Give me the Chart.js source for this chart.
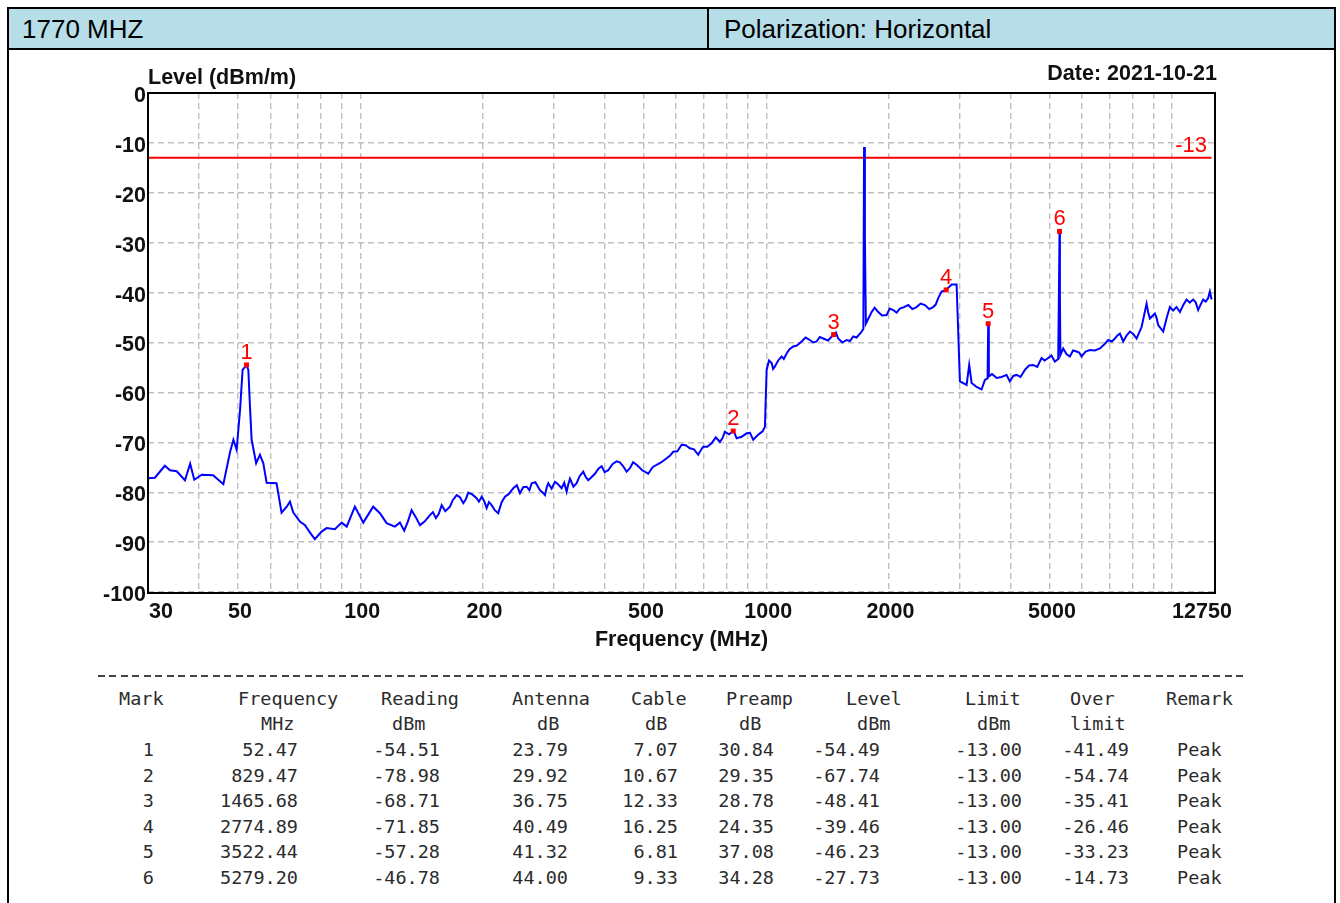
<!DOCTYPE html>
<html><head><meta charset="utf-8">
<script src="https://cdn.jsdelivr.net/npm/chart.js@4.4.0/dist/chart.umd.min.js"></script>
<style>
html,body{margin:0;padding:0;background:#fff;width:1340px;height:903px;overflow:hidden;position:relative;font-family:"Liberation Sans",Arial,sans-serif;}
#frame{position:absolute;left:7px;top:7px;width:1329px;height:930px;border:2px solid #000;box-sizing:border-box;}
#hdr{position:absolute;left:9px;top:9px;width:1325px;height:41px;background:#b7dde8;border-bottom:2px solid #000;box-sizing:border-box;}
#div{position:absolute;left:707px;top:9px;width:2px;height:41px;background:#000;}
.ht{position:absolute;top:9px;height:40px;line-height:40px;font-size:26px;color:#000;white-space:nowrap;}
#c{position:absolute;left:0;top:0;z-index:2;}
#tbl{position:absolute;left:0;top:0;width:1340px;height:903px;font-family:"DejaVu Sans Mono","Liberation Mono",monospace;font-size:18.5px;color:#2b2b2b;}
#tbl span{position:absolute;white-space:pre;height:26px;line-height:26px;}
#dash{position:absolute;left:98px;top:675px;width:1150px;height:2px;background:repeating-linear-gradient(90deg,#444 0,#444 7px,transparent 7px,transparent 11.5px);}
</style></head>
<body>
<div id="frame"></div>
<div id="hdr"></div>
<div id="div"></div>
<div class="ht" style="left:22px">1770 MHZ</div>
<div class="ht" style="left:724px">Polarization: Horizontal</div>
<div id="tbl"><div id="dash"></div></div>
<canvas id="c" width="1340" height="665"></canvas>
<script>
// ---- data ----
const traceFreq = [30.0,31.2,33.0,34.0,35.3,37.0,38.1,39.0,40.7,43.4,46.0,47.8,48.7,49.6,50.6,51.3,52.47,53.0,53.5,54.0,55.4,56.6,57.7,58.8,62.2,64.0,65.9,67.1,68.4,71.0,73.1,75.2,77.3,80.3,82.6,86.6,90.0,92.6,97.0,98.9,101.7,107.6,111.8,116.1,121.7,125.2,128.3,131,133.8,137,140.3,144,148.5,151,153.6,156,158.7,162,166.3,169,172.8,176,179.4,182,184.5,189,193.5,196,199.1,202,204.8,207.5,210.7,214.5,218.7,223,227.2,232,238.2,243,247.4,252,257.0,261,264.4,270,277.1,281,285.1,288,290.5,296,301.7,307,313.4,318,322.4,325,328.5,335,341.2,347,354.2,359,364.4,371,378.5,386,393.2,400,408.2,418,428.1,436,444.4,453,461.6,470,479.5,495,512.1,525,537.1,552,568.5,579,590.1,604,618.9,633,648.7,664,680.0,690,699.5,716,733.6,751,768.9,780,791.0,810,829.47,837,845.5,870,894.9,912,929.0,947,964.9,980,992.7,1002.3,1016,1031.1,1040,1050.6,1070,1091.3,1105,1122.7,1140,1165.6,1190,1222.4,1250,1281.3,1305,1330.9,1355,1381.7,1420,1465.68,1485,1504.4,1540,1578.0,1608,1638.2,1670,1701.6,1718,1735,1742,1750,1760,1818.4,1850,1887.6,1930,1979.7,2015,2055.0,2095,2134.5,2185,2237.6,2290,2346.7,2400,2459.8,2520,2578.6,2615,2652.8,2704.4,2774.89,2862.1,2944.4,2971.2,3000,3116.1,3162.4,3205.9,3298.0,3392.8,3456.9,3510,3522.44,3535,3600,3694.2,3800,3909.6,3983.6,4060,4137.7,4230,4336.8,4440,4545.6,4650,4767.6,4850,4950,5040,5141.7,5240,5279.2,5290,5305,5389.7,5490,5598.3,5700,5814.8,5900,5982,6120,6269.7,6450,6637.8,6800,6957.6,7100,7226.7,7330,7434.6,7575,7720,7868.7,8020,8172.9,8408,8649.9,8730,8813.4,9066.9,9150,9238.2,9504,9700,9871.8,10050,10254,10448,10650,10852,11050,11265,11420,11589,11750,11922,12100,12267,12384,12507];
const traceLevel = [-77.2,-77.1,-74.7,-75.6,-75.8,-77.6,-74.3,-77.5,-76.5,-76.6,-78.4,-71.9,-69.5,-71.5,-63.2,-55.5,-54.5,-55.5,-62.9,-69.5,-74.2,-72.5,-74.2,-78.1,-78.2,-84.1,-82.9,-81.9,-84.1,-85.9,-86.6,-88.1,-89.4,-87.9,-87.2,-87.4,-86.1,-86.9,-82.9,-84.2,-86.1,-82.9,-84.2,-86.2,-86.9,-86.1,-87.7,-85.9,-83.6,-85.0,-86.6,-85.9,-84.6,-84.0,-85.2,-84.4,-82.6,-83.8,-82.9,-81.6,-80.6,-81.0,-82.2,-81.4,-80.1,-80.5,-81.2,-81.9,-80.9,-81.8,-83.2,-82.0,-82.6,-83.6,-84.2,-82.0,-80.9,-80.4,-79.2,-78.6,-80.2,-79.0,-78.9,-79.6,-78.2,-78.0,-79.6,-80.0,-80.6,-79.0,-78.2,-79.3,-77.9,-78.4,-79.2,-78.1,-79.9,-78.6,-77.3,-78.9,-78.2,-76.8,-75.9,-76.9,-77.6,-77.0,-76.3,-75.3,-74.8,-76.0,-75.6,-74.4,-73.8,-74.0,-74.8,-75.9,-75.2,-74.0,-74.5,-75.6,-76.3,-75.0,-74.5,-74.0,-73.2,-72.7,-71.9,-71.8,-70.5,-70.6,-71.2,-71.4,-72.5,-71.6,-70.9,-70.9,-70.2,-69.0,-69.9,-69.2,-67.9,-68.4,-67.74,-68.3,-69.2,-68.9,-68.2,-68.1,-69.5,-68.8,-68.2,-67.8,-66.9,-55.5,-53.6,-54.1,-55.3,-54.8,-53.6,-52.8,-53.3,-52.2,-51.4,-50.8,-50.6,-49.8,-49.0,-49.5,-50.0,-49.8,-48.9,-49.2,-49.6,-48.41,-48.0,-49.2,-50.0,-49.5,-49.7,-48.8,-49.0,-48.2,-47.8,-47.3,-10.8,-28.8,-46.2,-43.9,-43.0,-43.9,-44.6,-44.5,-43.2,-43.5,-44.0,-43.2,-42.9,-42.5,-43.3,-42.9,-42.2,-42.5,-43.3,-42.9,-42.4,-41.1,-39.8,-39.46,-38.4,-38.4,-47.8,-57.8,-58.5,-54.5,-58.1,-58.9,-59.4,-57.5,-57.2,-46.23,-56.8,-56.3,-57.1,-56.9,-56.5,-57.8,-56.7,-56.5,-56.9,-55.5,-54.6,-54.5,-54.9,-53.1,-53.6,-53.1,-52.6,-53.8,-53.3,-27.73,-40.4,-52.5,-51.2,-52.3,-52.8,-51.6,-51.8,-52.0,-52.8,-51.8,-51.5,-51.6,-51.2,-50.4,-49.5,-49.8,-49.2,-48.6,-48.2,-49.8,-48.6,-47.8,-48.3,-49.2,-46.9,-42.2,-44.0,-45.2,-44.2,-45.0,-46.5,-47.8,-45.0,-42.9,-43.6,-42.9,-43.9,-42.5,-41.4,-42.0,-41.4,-41.9,-43.5,-42.4,-41.4,-41.8,-41.1,-39.8,-41.4];
const limitFreq = [30, 12500];
const limitLevel = [-13, -13];
const limitValue = -13;
const markNo = [1, 2, 3, 4, 5, 6];
const markFreq = [52.47, 829.47, 1465.68, 2774.89, 3522.44, 5279.20];
const markReading = [-54.51, -78.98, -68.71, -71.85, -57.28, -46.78];
const markAntenna = [23.79, 29.92, 36.75, 40.49, 41.32, 44.00];
const markCable = [7.07, 10.67, 12.33, 16.25, 6.81, 9.33];
const markPreamp = [30.84, 29.35, 28.78, 24.35, 37.08, 34.28];
const markLevel = [-54.49, -67.74, -48.41, -39.46, -46.23, -27.73];
const markLimit = [-13.00, -13.00, -13.00, -13.00, -13.00, -13.00];
const markOver = [-41.49, -54.74, -35.41, -26.46, -33.23, -14.73];
const markRemark = ['Peak', 'Peak', 'Peak', 'Peak', 'Peak', 'Peak'];
const xTickLabels = [30, 50, 100, 200, 500, 1000, 2000, 5000, 12750];
const xGridValues = [40,50,60,70,80,90,100,200,300,400,500,600,700,800,900,1000,2000,3000,4000,5000,6000,7000,8000,9000,10000];
const yTicks = [0,-10,-20,-30,-40,-50,-60,-70,-80,-90,-100];

// ---- table ----
const tbl = document.getElementById('tbl');
function put(txt, x, yc, align) {
  const s = document.createElement('span');
  s.textContent = txt;
  s.style.top = (yc - 13) + 'px';
  if (align === 'right') { s.style.right = (1340 - x) + 'px'; } else { s.style.left = x + 'px'; }
  tbl.appendChild(s);
}
const h1 = [['Mark',119],['Frequency',238],['Reading',381],['Antenna',512],['Cable',631],['Preamp',726],['Level',846],['Limit',965],['Over',1070],['Remark',1166]];
const h2 = [['MHz',261],['dBm',392],['dB',537],['dB',645],['dB',739],['dBm',857],['dBm',977],['limit',1070]];
h1.forEach(h => put(h[0], h[1], 699));
h2.forEach(h => put(h[0], h[1], 724));
const cols = [
  [markNo.map(String), 154],
  [markFreq.map(v => v.toFixed(2)), 298],
  [markReading.map(v => v.toFixed(2)), 440],
  [markAntenna.map(v => v.toFixed(2)), 568],
  [markCable.map(v => v.toFixed(2)), 678],
  [markPreamp.map(v => v.toFixed(2)), 774],
  [markLevel.map(v => v.toFixed(2)), 880],
  [markLimit.map(v => v.toFixed(2)), 1022],
  [markOver.map(v => v.toFixed(2)), 1129]
];
for (let i = 0; i < markNo.length; i++) {
  const yc = 750 + i * 25.6;
  cols.forEach(c => put(c[0][i], c[1], yc, 'right'));
  put(markRemark[i], 1177, yc);
}

// ---- chart ----
const W = 1340, H = 665, PLOT_BOTTOM = 592;
const overlay = {
  id: 'overlay',
  afterDraw(chart) {
    const ctx = chart.ctx, a = chart.chartArea;
    const xs = chart.scales.x, ys = chart.scales.y;
    ctx.save();
    ctx.strokeStyle = '#000'; ctx.lineWidth = 2;
    ctx.strokeRect(a.left, a.top, a.right - a.left, a.bottom - a.top + 1);
    ctx.fillStyle = '#111';
    ctx.font = 'bold 21.5px "Liberation Sans", Arial, sans-serif';
    ctx.textAlign = 'right'; ctx.textBaseline = 'middle';
    yTicks.forEach(v => ctx.fillText(String(v), a.left - 2, ys.getPixelForValue(v) + 3));
    ctx.textBaseline = 'middle';
    xTickLabels.forEach((v, i) => {
      const px = xs.getPixelForValue(v);
      if (i === 0) { ctx.textAlign = 'left'; ctx.fillText(String(v), px + 1, a.bottom + 20); }
      else if (i === xTickLabels.length - 1) { ctx.textAlign = 'center'; ctx.fillText(String(v), px - 13, a.bottom + 20); }
      else { ctx.textAlign = 'center'; ctx.fillText(String(v), px + 2, a.bottom + 20); }
    });
    ctx.textAlign = 'center';
    ctx.fillText('Frequency (MHz)', (a.left + a.right) / 2, a.bottom + 48);
    ctx.textAlign = 'left';
    ctx.fillText('Level (dBm/m)', a.left, a.top - 15);
    ctx.textAlign = 'right';
    ctx.fillText('Date: 2021-10-21', a.right + 2, a.top - 19);
    ctx.fillStyle = '#ff0000';
    ctx.font = '22px "Liberation Sans", Arial, sans-serif';
    ctx.textAlign = 'right'; ctx.textBaseline = 'alphabetic';
    ctx.fillText(String(limitValue), a.right - 8, ys.getPixelForValue(limitValue) - 6);
    const meta = chart.getDatasetMeta(2);
    ctx.textAlign = 'center';
    meta.data.forEach((p, i) => ctx.fillText(String(markNo[i]), p.x, p.y - 6));
    ctx.restore();
  }
};
const gridOpts = { color: '#bfbfbf', lineWidth: 1.4, drawTicks: false };
new Chart(document.getElementById('c'), {
  type: 'line',
  data: {
    datasets: [
      { data: traceFreq.map((f, i) => ({ x: f, y: traceLevel[i] })), borderColor: '#0000ff', borderWidth: 2, pointRadius: 0, tension: 0, order: 2 },
      { data: limitFreq.map((f, i) => ({ x: f, y: limitLevel[i] })), borderColor: '#ff0000', borderWidth: 2, pointRadius: 0, order: 3 },
      { data: markFreq.map((f, i) => ({ x: f, y: markLevel[i] })), showLine: false, pointStyle: 'rect', pointRadius: 3.5, backgroundColor: '#ff0000', borderColor: '#ff0000', borderWidth: 0, order: 1 }
    ]
  },
  options: {
    responsive: false, animation: false, devicePixelRatio: 1,
    layout: { padding: { top: 93, right: 125, left: 0, bottom: 0 } },
    plugins: { legend: { display: false }, tooltip: { enabled: false } },
    scales: {
      x: {
        type: 'logarithmic', min: 30, max: 12750,
        afterBuildTicks: s => { s.ticks = xGridValues.map(v => ({ value: v })); },
        ticks: { display: false },
        grid: gridOpts,
        border: { display: false, dash: [6, 4] },
        afterFit: s => { s.height = H - PLOT_BOTTOM; }
      },
      y: {
        type: 'linear', min: -100, max: 0,
        afterBuildTicks: s => { s.ticks = yTicks.map(v => ({ value: v })); },
        ticks: { display: false },
        grid: gridOpts,
        border: { display: false, dash: [6, 4] },
        afterFit: s => { s.width = 148; }
      }
    }
  },
  plugins: [overlay]
});
</script>
</body></html>
